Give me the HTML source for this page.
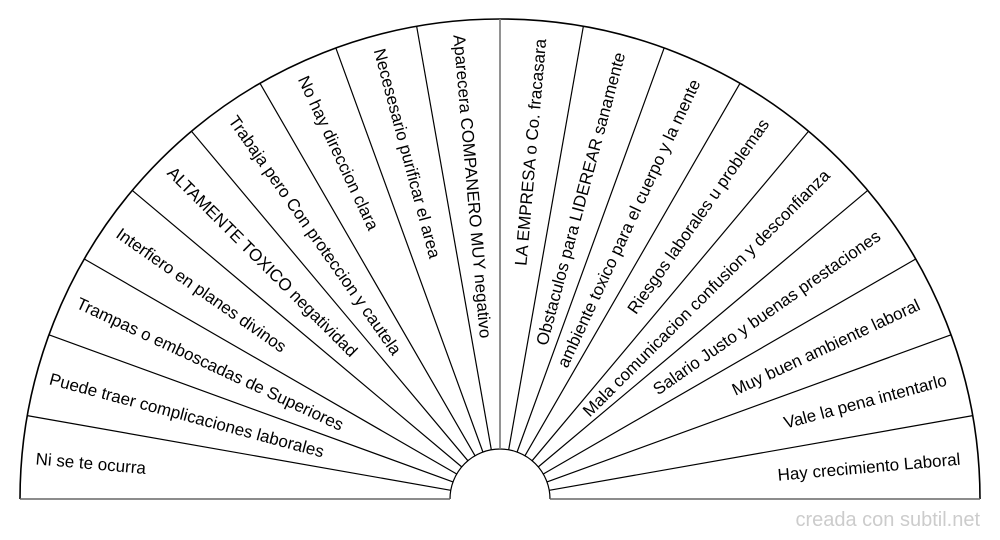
<!DOCTYPE html>
<html><head><meta charset="utf-8"><style>
html,body{margin:0;padding:0;background:#fff;}
svg{display:block}
text{font-family:"Liberation Sans",sans-serif;font-size:17px;fill:#000}
</style></head><body>
<svg width="1000" height="540" viewBox="0 0 1000 540" xmlns="http://www.w3.org/2000/svg">
<g fill="none" stroke="#000" stroke-width="1.2">
<path d="M20,499 A480,480 0 0 1 980,499" stroke-width="1.6"/>
<path d="M450,499 A50,50 0 0 1 550,499"/>
<line x1="20" y1="499" x2="450" y2="499" stroke="#666" stroke-width="1.6"/>
<line x1="550" y1="499" x2="980" y2="499" stroke="#666" stroke-width="1.6"/>
<g id="lines"></g>
</g>
<g id="labels"></g>
<text x="980" y="526" text-anchor="end" style="fill:#ccc;font-size:20px">creada con subtil.net</text>
</svg>
<script>
var cx=500,cy=499,R=480,r=50;
var lg=document.getElementById('lines'),tg=document.getElementById('labels');
var ns='http://www.w3.org/2000/svg';
for(var i=1;i<18;i++){var a=i*10*Math.PI/180;var l=document.createElementNS(ns,'line');
l.setAttribute('x1',cx+r*Math.cos(a));l.setAttribute('y1',cy-r*Math.sin(a));
l.setAttribute('x2',cx+R*Math.cos(a));l.setAttribute('y2',cy-R*Math.sin(a));
if(i==9){l.setAttribute('stroke','#777');l.setAttribute('stroke-width','1.6');}
lg.appendChild(l);}
var labels=["Ni se te ocurra","Puede traer complicaciones laborales","Trampas o emboscadas de Superiores","Interfiero en planes divinos","ALTAMENTE TOXICO negatividad","Trabaja pero Con proteccion y cautela","No hay direccion clara","Necesesario purificar el area","Aparecera COMPANERO MUY negativo","LA EMPRESA o Co.  fracasara","Obstaculos para LIDEREAR sanamente","ambiente toxico para el cuerpo y la mente","Riesgos laborales u problemas","Mala comunicacion confusion y desconfianza","Salario Justo y buenas prestaciones","Muy buen ambiente laboral","Vale la pena intentarlo","Hay crecimiento Laboral"];
for(var k=0;k<18;k++){var t=document.createElementNS(ns,'text');t.textContent=labels[k];
var a=175-10*k;var rot,x,anc;
if(a>90){rot=180-a;x=-466;anc='start';}else{rot=-a;x=462;anc='end';}
t.setAttribute('transform','translate('+cx+','+cy+') rotate('+rot+')');
t.setAttribute('x',x);t.setAttribute('y',6);t.setAttribute('text-anchor',anc);
tg.appendChild(t);}
</script>
</body></html>
